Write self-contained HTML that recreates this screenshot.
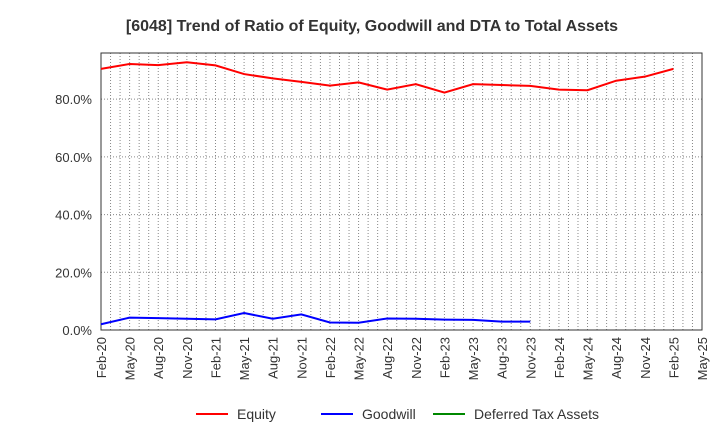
<!DOCTYPE html>
<html><head><meta charset="utf-8"><style>
body{margin:0;background:#fff;}
svg{font-family:"Liberation Sans",sans-serif;}
</style></head><body>
<svg id="c" width="720" height="440"></svg>
<script>
const categories=["Feb-20","May-20","Aug-20","Nov-20","Feb-21","May-21","Aug-21","Nov-21","Feb-22","May-22","Aug-22","Nov-22","Feb-23","May-23","Aug-23","Nov-23","Feb-24","May-24","Aug-24","Nov-24","Feb-25","May-25"];
const equity=[90.5,92.2,91.8,92.8,91.7,88.7,87.2,86.0,84.7,85.8,83.3,85.2,82.3,85.2,84.9,84.6,83.3,83.1,86.4,87.8,90.5];
const goodwill=[2.0,4.3,4.1,3.9,3.7,5.9,3.9,5.4,2.6,2.5,4.0,3.9,3.6,3.5,2.9,2.9];
const dta=[];
const yTicks=[0,20,40,60,80];
const ns="http://www.w3.org/2000/svg",svg=document.getElementById('c');
const L=101,R=702,T=53,B=330,ymax=96;
const x=i=>L+(R-L)*i/(categories.length-1);
const y=v=>B-(B-T)*v/ymax;
function mk(t,a,p){const e=document.createElementNS(ns,t);for(const k in a)e.setAttribute(k,a[k]);(p||svg).appendChild(e);return e;}
const title=mk('text',{x:372,y:31,'text-anchor':'middle','font-size':16,'font-weight':'bold',fill:'#333'});
title.textContent="[6048]  Trend of Ratio of Equity, Goodwill and DTA to Total Assets";


const nm=(categories.length-1)*3;
for(let m=1;m<nm;m++){const xx=L+(R-L)*m/nm;const g=mk('line',{x1:xx,x2:xx,y1:T,y2:B,stroke:'#888','stroke-dasharray':'1,2','stroke-width':1});

}
yTicks.forEach(v=>{if(v>0){const g=mk('line',{x1:L,x2:R,y1:y(v),y2:y(v),stroke:'#888','stroke-dasharray':'1,2'});

}
const t=mk('text',{x:L-9,y:y(v)+5,'text-anchor':'end','font-size':13,fill:'#333'});t.textContent=v.toFixed(1)+"%";

});
const fr=mk('rect',{x:L,y:T,width:R-L,height:B-T,fill:'none',stroke:'#333'});


categories.forEach((c,i)=>{const t=mk('text',{transform:`translate(${x(i)+5},${B+7}) rotate(-90)`,'text-anchor':'end','font-size':13,fill:'#333'});t.textContent=c;

});
function line(d,col,name){if(!d.length)return;const p=mk('polyline',{points:d.map((v,i)=>x(i)+','+y(v)).join(' '),fill:'none',stroke:col,'stroke-width':2});

}
line(equity,'#f00','equity-line');line(goodwill,'#00f','goodwill-line');line(dta,'#080','dta-line');
[["Equity",'#f00',196],["Goodwill",'#00f',321],["Deferred Tax Assets",'#080',433]].forEach(([n,c,lx])=>{
const g=mk('g',{});

mk('line',{x1:lx,x2:lx+32,y1:414,y2:414,stroke:c,'stroke-width':2},g);
const t=mk('text',{x:lx+41,y:419,'font-size':14,fill:'#333'},g);t.textContent=n;});
</script>
</body></html>
